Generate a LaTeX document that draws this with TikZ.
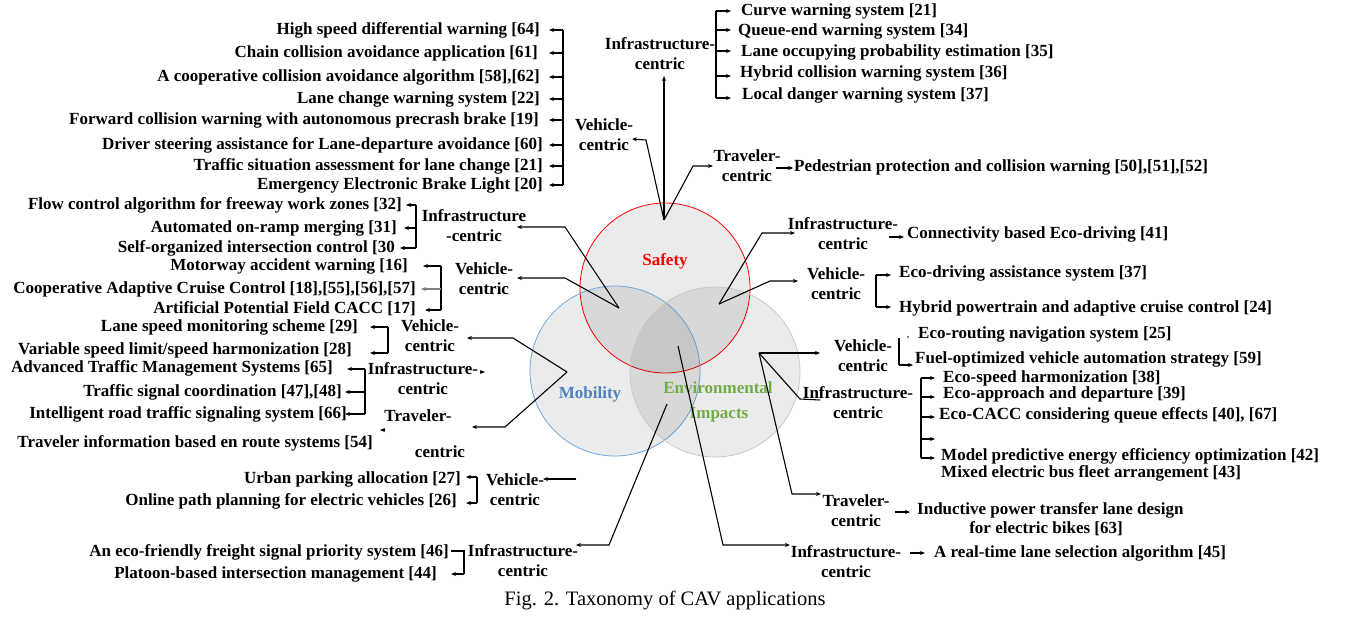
\documentclass[tikz,border=0pt]{standalone}
\usepackage{fontspec}
\setmainfont{Liberation Serif}
\usetikzlibrary{arrows.meta}
\definecolor{mobblue}{HTML}{4F81BD}
\definecolor{envgreen}{HTML}{70AD47}
\definecolor{envedge}{HTML}{C5CCBE}
\definecolor{mobedge}{HTML}{6FA8DC}
\begin{document}
\begin{tikzpicture}[x=1pt,y=-1pt,
  txt/.style={font=\fontsize{17}{20}\selectfont\bfseries, inner sep=0pt, text height=11.5pt, text depth=3.5pt},
  il/.style={txt, anchor=east},
  ir/.style={txt, anchor=west},
  lb/.style={txt, align=center},
  con/.style={line width=1.1pt},
  arr/.style={line width=1.1pt, -{Stealth[length=5pt,width=4pt]}},
  brk/.style={line width=1.4pt},
]
\useasboundingbox (0,0) rectangle (1351,616);
\fill[white] (0,0) rectangle (1351,616);

% ---------- circles ----------
\path[fill=black, fill opacity=0.08, draw=red, line width=0.8pt] (665,288) circle[radius=85pt];
\path[fill=black, fill opacity=0.08, draw=mobedge, line width=0.8pt] (615,371) circle[radius=85pt];
\path[fill=black, fill opacity=0.08, draw=envedge, line width=0.8pt] (715,372) circle[radius=85pt];
\node[txt, text=red] (safety) at (665,261) {Safety};
\node[txt, text=mobblue] (mobility) at (590,394) {Mobility};
\node[txt, text=envgreen] (env1) at (718,389) {Environmental};
\node[txt, text=envgreen] (env2) at (719,414) {Impacts};

% ---------- convergence points ----------
\coordinate (S) at (664,220);
\coordinate (M1) at (619,308);
\coordinate (M2) at (567,372);
\coordinate (E1) at (719,304);
\coordinate (E2) at (759,353);
\coordinate (E3) at (667,404);
\coordinate (E4) at (678,346);

% (two-line labels are placed at the y of their second line)
% ---------- Safety: vehicle-centric ----------
\node[lb] (svl) at (604,146) {Vehicle-\\centric};
\node[il] (sv1) at (540,30) {High speed differential warning [64]};
\node[il] (sv2) at (538,53) {Chain collision avoidance application [61]};
\node[il] (sv3) at (540,77) {A cooperative collision avoidance algorithm [58],[62]};
\node[il] (sv4) at (540,99) {Lane change warning system [22]};
\node[il] (sv5) at (539,120) {Forward collision warning with autonomous precrash brake [19]};
\node[il] (sv6) at (543,145) {Driver steering assistance for Lane-departure avoidance [60]};
\node[il] (sv7) at (543,166) {Traffic situation assessment for lane change [21]};
\node[il] (sv8) at (543,185) {Emergency Electronic Brake Light [20]};
\draw[brk] (563,30) -- (563,185);
\foreach \yy in {30,53,77,99,120,145,166,185} \draw[arr] (563,\yy) -- (549,\yy);

% ---------- Safety: infrastructure-centric ----------
\node[lb] (sil) at (660,65) {Infrastructure-\\centric};
\node[ir] (si1) at (741,11) {Curve warning system [21]};
\node[ir] (si2) at (738,31) {Queue-end warning system [34]};
\node[ir] (si3) at (741,52) {Lane occupying probability estimation [35]};
\node[ir] (si4) at (740,73) {Hybrid collision warning system [36]};
\node[ir] (si5) at (742,95) {Local danger warning system [37]};
\draw[brk] (716,11) -- (716,98);
\foreach \yy in {11,30,51,76,98} \draw[arr] (716,\yy) -- (731,\yy);

% ---------- Safety: traveler-centric ----------
\node[lb] (stl) at (747,177) {Traveler-\\centric};
\node[ir] (st1) at (794,167) {Pedestrian protection and collision warning [50],[51],[52]};
\draw[arr] (776,168) -- (793,168);

% Safety connectors
\draw[arr] (S) -- (664,76);
\draw[arr] (S) -- (646,140) -- (632,139);
\draw[arr] (S) -- (693,166) -- (713,166);

% ---------- Mobility: infrastructure-centric (top) ----------
\node[lb] (mil) at (474,237) {Infrastructure\\-centric};
\node[il] (mi1) at (402,205) {Flow control algorithm for freeway work zones [32]};
\node[il] (mi2) at (397,228) {Automated on-ramp merging [31]};
\node[il] (mi3) at (395,248) {Self-organized intersection control [30};
\draw[brk] (416,205) -- (416,248);
\draw[arr] (416,205) -- (406,205);
\draw[arr] (416,228) -- (404,228);
\draw[arr] (416,248) -- (400,248);

% ---------- Mobility: vehicle-centric (top) ----------
\node[lb] (mvl) at (484,290) {Vehicle-\\centric};
\node[il] (mv1) at (408,266) {Motorway accident warning [16]};
\node[il] (mv2) at (416,289) {Cooperative Adaptive Cruise Control [18],[55],[56],[57]};
\node[il] (mv3) at (416,309) {Artificial Potential Field CACC [17]};
\draw[brk] (441,266) -- (441,310);
\draw[arr] (441,266) -- (423,266);
\draw[arr, gray] (441,289) -- (421,289);
\draw[arr] (441,310) -- (425,310);

\draw[arr] (M1) -- (565,227) -- (517,227);
\draw[arr] (M1) -- (565,278) -- (517,278);

% ---------- Mobility: vehicle-centric (second) ----------
\node[lb] (mwl) at (430,347) {Vehicle-\\centric};
\node[il] (mw1) at (358,327) {Lane speed monitoring scheme [29]};
\node[il] (mw2) at (352,350) {Variable speed limit/speed harmonization [28]};
\draw[brk] (388,327) -- (388,353);
\draw[arr] (388,327) -- (370,327);
\draw[arr] (388,353) -- (370,353);

% ---------- Mobility: infrastructure-centric (second) ----------
\node[lb] (mjl) at (423,390) {Infrastructure-\\centric};
\node[il] (mj1) at (333,368) {Advanced Traffic Management Systems [65]};
\node[il] (mj2) at (342,392) {Traffic signal coordination [47],[48]};
\node[il] (mj3) at (347,414) {Intelligent road traffic signaling system [66]};
\draw[brk] (365,369) -- (365,414);
\draw[arr] (365,369) -- (347,369);
\draw[arr] (365,392) -- (345,392);
\draw[arr] (365,414) -- (345,414);
\draw[arr] (480,372) -- (485,372);

% ---------- Mobility: traveler-centric ----------
\node[txt] (mtl1) at (418,417) {Traveler-};
\node[txt] (mtl2) at (440,453) {centric};
\node[il] (mt1) at (373,443) {Traveler information based en route systems [54]};
\draw[arr] (385,430) -- (380,430);

\draw[arr] (M2) -- (513,338) -- (467,338);
\draw[arr] (M2) -- (505,427) -- (472,427);

% ---------- Mobility: vehicle-centric (lower) ----------
\node[lb] (mkl) at (515,501) {Vehicle-\\centric};
\node[il] (mk1) at (461,479) {Urban parking allocation [27]};
\node[il] (mk2) at (457,501) {Online path planning for electric vehicles [26]};
\draw[brk] (477,477) -- (477,503);
\draw[arr] (477,477) -- (466,477);
\draw[arr] (477,503) -- (466,503);
\draw[arr] (576,479) -- (543,479);

% ---------- bottom-left infrastructure-centric ----------
\node[lb] (bil) at (523,572) {Infrastructure-\\centric};
\node[il] (bi1) at (449,552) {An eco-friendly freight signal priority system [46]};
\node[il] (bi2) at (437,574) {Platoon-based intersection management [44]};
\draw[brk] (451,551) -- (464,551) -- (464,574);
\draw[arr] (464,574) -- (451,574);
\draw[arr] (E3) -- (609,545) -- (576,545);

% ---------- Environment: infrastructure-centric (top) ----------
\node[lb] (eil) at (843,245) {Infrastructure-\\centric};
\node[ir] (ei1) at (907,234) {Connectivity based Eco-driving [41]};
\draw[arr] (889,237) -- (904,237);
\draw[arr] (E1) -- (762,233) -- (795,233);
\draw[arr] (E1) -- (770,281) -- (798,281);

% ---------- Environment: vehicle-centric ----------
\node[lb] (evl) at (836,295) {Vehicle-\\centric};
\node[ir] (ev1) at (899,273) {Eco-driving assistance system [37]};
\node[ir] (ev2) at (899,308) {Hybrid powertrain and adaptive cruise control [24]};
\draw[brk] (876,275) -- (876,307);
\draw[arr] (876,275) -- (891,275);
\draw[arr] (876,307) -- (891,307);

% ---------- Environment: vehicle-centric (second) ----------
\node[lb] (ewl) at (863,367) {Vehicle-\\centric};
\node[ir] (ew1) at (918,334) {Eco-routing navigation system [25]};
\node[ir] (ew2) at (915,359) {Fuel-optimized vehicle automation strategy [59]};
\draw[brk] (899,338) -- (899,365);
\draw[arr] (899,365) -- (913,365);
\fill (908,337) circle[radius=0.8pt];
\draw[arr] (E2) -- (820,353);

% ---------- Environment: infrastructure-centric (second) ----------
\node[lb] (ejl) at (858,414) {Infrastructure-\\centric};
\node[ir] (ej1) at (943,378) {Eco-speed harmonization [38]};
\node[ir] (ej2) at (943,394) {Eco-approach and departure [39]};
\node[ir] (ej3) at (939,415) {Eco-CACC considering queue effects [40], [67]};
\node[ir] (ej4) at (941,456) {Model predictive energy efficiency optimization [42]};
\node[ir] (ej5) at (941,473) {Mixed electric bus fleet arrangement [43]};
\draw[brk] (921,378) -- (921,458);
\foreach \yy in {378,397,417,439,458} \draw[arr] (921,\yy) -- (935,\yy);
\draw[con] (E2) -- (800,399) -- (820,400);

% ---------- Environment: traveler-centric ----------
\node[lb] (etl) at (856,522) {Traveler-\\centric};
\node[ir] (et1) at (917,510) {Inductive power transfer lane design};
\node[txt] (et2) at (1046,529) {for electric bikes [63]};
\draw[arr] (895,512) -- (910,512);
\draw[arr] (E2) -- (792,494) -- (821,494);

% ---------- Environment: infrastructure-centric (bottom) ----------
\node[lb] (ekl) at (846,573) {Infrastructure-\\centric};
\node[ir] (ek1) at (934,553) {A real-time lane selection algorithm [45]};
\draw[arr] (910,553) -- (925,553);
\draw[arr] (E4) -- (723,545) -- (790,545);

% ---------- caption ----------
\node[font=\fontsize{20.5}{24}\selectfont, inner sep=0pt] (cap) at (665,600) {Fig. 2. Taxonomy of CAV applications};
\end{tikzpicture}
\end{document}
